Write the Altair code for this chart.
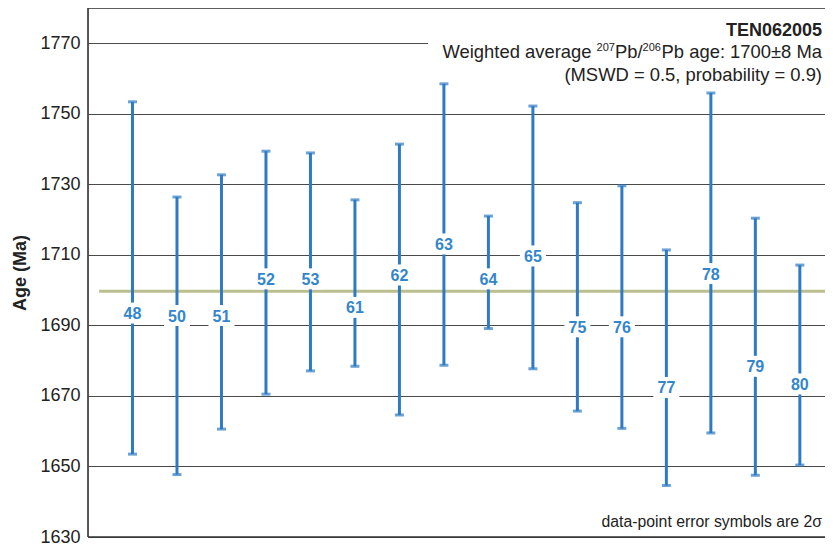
import altair as alt
import pandas as pd

# ---- data ----
analyses = ["48", "50", "51", "52", "53", "61", "62", "63",
            "64", "65", "75", "76", "77", "78", "79", "80"]
age_hi = [1753.4, 1726.4, 1732.7, 1739.4, 1738.9, 1725.6, 1741.4, 1758.5,
          1721.0, 1752.2, 1724.8, 1729.6, 1711.4, 1755.9, 1720.4, 1707.1]
age_lo = [1653.5, 1647.7, 1660.6, 1670.5, 1677.1, 1678.4, 1664.6, 1678.7,
          1689.1, 1677.7, 1665.7, 1660.8, 1644.6, 1659.5, 1647.5, 1650.4]
label_age = [1693.5, 1692.8, 1692.8, 1703.2, 1703.2, 1695.1, 1704.3, 1713.1,
             1703.2, 1709.7, 1689.6, 1689.6, 1672.4, 1704.7, 1678.4, 1673.4]
weighted_mean = 1699.7
y_ticks = [1630, 1650, 1670, 1690, 1710, 1730, 1750, 1770]

sample_name = "TEN062005"
line2_parts = ["Weighted average", "207", "Pb/", "206", "Pb age: 1700\u00b18 Ma"]
line3 = "(MSWD = 0.5, probability = 0.9)"
note = "data-point error symbols are 2\u03c3"

FONT = "Liberation Sans"
BAR = "#2e7bc3"
LAB = "#3386cc"
TXT = "#222222"
W, H = 737, 529
XMAX = W / 44.49

df = pd.DataFrame({
    "pos": list(range(1, len(analyses) + 1)),
    "analysis": analyses,
    "hi": age_hi,
    "lo": age_lo,
    "lab": label_age,
})
mean_df = pd.DataFrame({"x0": [0.25], "x1": [XMAX], "y": [weighted_mean]})
one = pd.DataFrame({"k": [0]})

xs = alt.Scale(domain=[0, XMAX], nice=False, zero=False)
ys = alt.Scale(domain=[1630, 1780], nice=False, zero=False)
xenc = alt.X("pos:Q", scale=xs, axis=None)
base = alt.Chart(df)

grid_layer = alt.Chart(mean_df).mark_rule(opacity=0).encode(
    x=alt.X("x0:Q", scale=xs, axis=None),
    y=alt.Y("y:Q", scale=ys,
            axis=alt.Axis(values=y_ticks, format="d", title="Age (Ma)", grid=True,
                          gridColor="#4a4a4a", gridWidth=1.2, domain=False,
                          ticks=False, labelFont=FONT, labelFontSize=18,
                          labelColor=TXT, labelPadding=8,
                          titleFont=FONT, titleFontSize=18, titleFontWeight="bold",
                          titleColor=TXT, titleAngle=270, titleX=-68,
                          titleY=H / 2, titleAlign="center", titleBaseline="middle")),
)

title_bg = alt.Chart(one).mark_rect(color="white", opacity=1).encode(
    x=alt.value(340), x2=alt.value(W), y=alt.value(2), y2=alt.value(80))

mean_line = alt.Chart(mean_df).mark_rule(color="#bbbe8e", strokeWidth=3).encode(
    x=alt.X("x0:Q", scale=xs, axis=None),
    x2="x1:Q",
    y=alt.Y("y:Q", scale=ys),
)

bars = base.mark_rule(color=BAR, strokeWidth=3).encode(
    x=xenc, y=alt.Y("lo:Q", scale=ys), y2="hi:Q")
cap_hi = base.mark_tick(color=BAR, orient="horizontal", size=9, thickness=3).encode(
    x=xenc, y=alt.Y("hi:Q", scale=ys))
cap_lo = base.mark_tick(color=BAR, orient="horizontal", size=9, thickness=3).encode(
    x=xenc, y=alt.Y("lo:Q", scale=ys))

label_bg = base.mark_point(
    shape="M-1.24,-1L1.24,-1L1.24,1L-1.24,1Z", filled=True, fill="white",
    opacity=1, strokeWidth=0, size=441).encode(
    x=xenc, y=alt.Y("lab:Q", scale=ys))

labels = base.mark_text(font=FONT, fontSize=16, fontWeight="bold", color=LAB,
                        baseline="middle", align="center", dy=1).encode(
    x=xenc, y=alt.Y("lab:Q", scale=ys), text="analysis:N")


def txt(s, x, y, size, weight="normal"):
    return alt.Chart(pd.DataFrame({"t": [s]})).mark_text(
        font=FONT, fontSize=size, fontWeight=weight, color=TXT, align="right",
        baseline="alphabetic").encode(text="t:N", x=alt.value(x), y=alt.value(y))


RIGHT = 734
FS, SS = 18.4, 11
# Arial/Liberation advance widths (em)
w_p5 = 8.756 * FS
w_sup = 1.668 * SS
w_p3 = 1.501 * FS
x5 = RIGHT
x4 = x5 - w_p5
x3 = x4 - w_sup
x2 = x3 - w_p3
x1 = x2 - w_sup - 0.278 * FS

title_layers = [
    txt(sample_name, RIGHT, 28, 18, "bold"),
    txt(line2_parts[0], x1, 50, FS),
    txt(line2_parts[1], x2, 43, SS),
    txt(line2_parts[2], x3, 50, FS),
    txt(line2_parts[3], x4, 43, SS),
    txt(line2_parts[4], x5, 50, FS),
    txt(line3, RIGHT, 73, FS),
    txt(note, RIGHT, 518.5, 15.8),
]

border_top = alt.Chart(one).mark_rule(color="#333", strokeWidth=1.6).encode(
    x=alt.value(0), x2=alt.value(W), y=alt.value(0))
border_bottom = alt.Chart(one).mark_rule(color="#333", strokeWidth=1.6).encode(
    x=alt.value(0), x2=alt.value(W), y=alt.value(H))
border_left = alt.Chart(one).mark_rule(color="#333", strokeWidth=1.6).encode(
    x=alt.value(0), y=alt.value(0), y2=alt.value(H))

chart = alt.layer(
    grid_layer, title_bg, mean_line, bars, cap_hi, cap_lo, label_bg, labels,
    *title_layers, border_top, border_bottom, border_left
).properties(
    width=W, height=H,
    autosize=alt.AutoSizeParams(type="none"),
    padding={"left": 80, "top": 0, "right": 0, "bottom": 10},
).configure_view(
    stroke=None
).configure(background="white")

chart.save("out.html", embed_options={"renderer": "svg", "actions": False})
